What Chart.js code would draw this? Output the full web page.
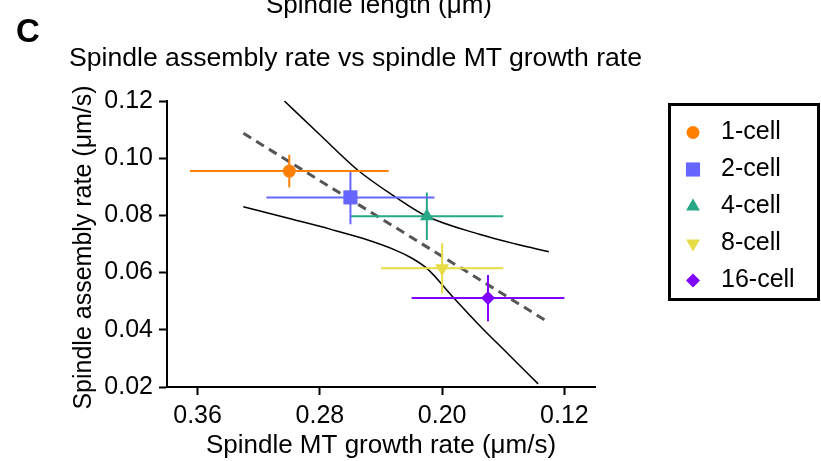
<!DOCTYPE html>
<html>
<head>
<meta charset="utf-8">
<script src="https://cdn.jsdelivr.net/npm/chart.js@4.4.1/dist/chart.umd.min.js"></script>
<style>
  html, body { margin: 0; padding: 0; background: #fff; }
  #wrap { position: relative; width: 821px; height: 461px; overflow: hidden; font-family: "Liberation Sans", Arial, sans-serif; color: #000; }
  #wrap canvas { position: absolute; left: 0; top: 0; }
  .txt { position: absolute; white-space: nowrap; line-height: 1; }
</style>
</head>
<body>
<div id="wrap">
  <canvas id="chart" width="821" height="461"></canvas>
  <div class="txt" style="left:379px; top:-9px; font-size:26px; transform:translateX(-50%);">Spindle length (μm)</div>
  <div class="txt" style="left:16px; top:14px; font-size:33px; font-weight:bold;">C</div>
  <div class="txt" style="left:69px; top:43.5px; font-size:26.6px;">Spindle assembly rate vs spindle MT growth rate</div>
</div>
<script>
// stages and their means / SEM
const groups = ['1-cell', '2-cell', '4-cell', '8-cell', '16-cell'];
const growthRate = [0.300, 0.260, 0.210, 0.200, 0.170];
const growthErr = [0.065, 0.055, 0.050, 0.040, 0.050];
const assemblyRate = [0.0955, 0.0863, 0.0797, 0.0615, 0.0511];
const assemblyErr = [0.0057, 0.0094, 0.0083, 0.0088, 0.0081];

// linear fit and its confidence band
const fitX = [0.330, 0.130];
const fitY = [0.1087, 0.0425];
const upperX = [0.3032, 0.2798, 0.2549, 0.2299, 0.2104, 0.1757, 0.1519, 0.1302];
const upperY = [0.1200, 0.1081, 0.0957, 0.0862, 0.0798, 0.0734, 0.0700, 0.0673];
const lowerX = [0.3301, 0.2993, 0.2733, 0.2516, 0.2299, 0.2200, 0.2096, 0.1940, 0.1757, 0.1562, 0.1372];
const lowerY = [0.0830, 0.0788, 0.0752, 0.0719, 0.0677, 0.0651, 0.0613, 0.0521, 0.0416, 0.0312, 0.0211];

const xTicks = [0.36, 0.28, 0.20, 0.12];

const colors = ['#FF8000', '#6666FF', '#26A887', '#E6DC46', '#8000FF'];
const shapes = ['circle', 'rect', 'triangle', 'triangle', 'rectRot'];
const rotations = [0, 0, 0, 180, 0];
const radii = [6.5, 10, 8, 8, 7];

const FONT = '"Liberation Sans", Arial, sans-serif';
Chart.defaults.font.family = FONT;
Chart.defaults.color = '#000';

const pts = (xs, ys) => xs.map((x, i) => ({x: x, y: ys[i]}));

const datasets = [];
groups.forEach((g, i) => {
  datasets.push({
    label: g,
    data: [{x: growthRate[i], y: assemblyRate[i]}],
    pointStyle: shapes[i],
    rotation: rotations[i],
    pointRadius: radii[i],
    backgroundColor: colors[i],
    borderColor: colors[i],
    pointBorderWidth: 0
  });
});
groups.forEach((g, i) => {
  datasets.push({
    data: [{x: growthRate[i] + growthErr[i], y: assemblyRate[i]}, {x: growthRate[i] - growthErr[i], y: assemblyRate[i]}],
    showLine: true, pointRadius: 0, borderColor: colors[i], borderWidth: 2
  });
  datasets.push({
    data: [{x: growthRate[i], y: assemblyRate[i] - assemblyErr[i]}, {x: growthRate[i], y: assemblyRate[i] + assemblyErr[i]}],
    showLine: true, pointRadius: 0, borderColor: colors[i], borderWidth: 2
  });
});
datasets.push({
  data: pts(fitX, fitY),
  showLine: true, pointRadius: 0, borderColor: '#555', borderWidth: 3, borderDash: [9, 6]
});
datasets.push({
  data: pts(upperX, upperY),
  showLine: true, pointRadius: 0, borderColor: '#000', borderWidth: 1.5, cubicInterpolationMode: 'monotone'
});
datasets.push({
  data: pts(lowerX, lowerY),
  showLine: true, pointRadius: 0, borderColor: '#000', borderWidth: 1.5, cubicInterpolationMode: 'monotone'
});

// boxed legend on the right
const boxLegend = {
  id: 'boxLegend',
  afterDraw(chart) {
    const ctx = chart.ctx;
    ctx.save();
    ctx.lineWidth = 3;
    ctx.strokeStyle = '#000';
    ctx.strokeRect(669.5, 104.5, 149, 195);
    ctx.font = '25px ' + FONT;
    ctx.textBaseline = 'middle';
    ctx.textAlign = 'left';
    groups.forEach((g, i) => {
      const y = 132.5 + i * 37;
      ctx.fillStyle = colors[i];
      Chart.helpers.drawPoint(ctx, {pointStyle: shapes[i], rotation: rotations[i], radius: radii[i], borderWidth: 0}, 693, y);
      ctx.fillStyle = '#000';
      ctx.fillText(g, 721, y);
    });
    ctx.restore();
  }
};

new Chart(document.getElementById('chart'), {
  type: 'scatter',
  data: {datasets: datasets},
  options: {
    responsive: false,
    animation: false,
    layout: {padding: {top: 101, right: 226, left: 0, bottom: 0}},
    plugins: {legend: {display: false}, tooltip: {enabled: false}},
    scales: {
      x: {
        type: 'linear',
        reverse: true,
        min: 0.10,
        max: 0.38,
        afterBuildTicks: s => { s.ticks = xTicks.map(v => ({value: v})); },
        afterFit: s => { s.height = 74; },
        ticks: {font: {size: 25}, color: '#000', padding: 6, callback: v => v.toFixed(2)},
        grid: {drawOnChartArea: false, drawTicks: true, tickLength: 8, tickWidth: 2, tickColor: '#000'},
        border: {display: true, color: '#000', width: 2},
        title: {display: true, text: 'Spindle MT growth rate (μm/s)', font: {size: 26}, color: '#000', padding: 0}
      },
      y: {
        min: 0.02,
        max: 0.12,
        afterFit: s => { s.width = 167; },
        ticks: {stepSize: 0.02, font: {size: 25}, color: '#000', padding: 6, callback: v => v.toFixed(2)},
        grid: {drawOnChartArea: false, drawTicks: true, tickLength: 8, tickWidth: 2, tickColor: '#000'},
        border: {display: true, color: '#000', width: 2},
        title: {display: true, text: 'Spindle assembly rate (μm/s) ', font: {size: 25}, color: '#000', padding: {top: 69, bottom: 0}}
      }
    }
  },
  plugins: [boxLegend]
});
</script>
</body>
</html>
